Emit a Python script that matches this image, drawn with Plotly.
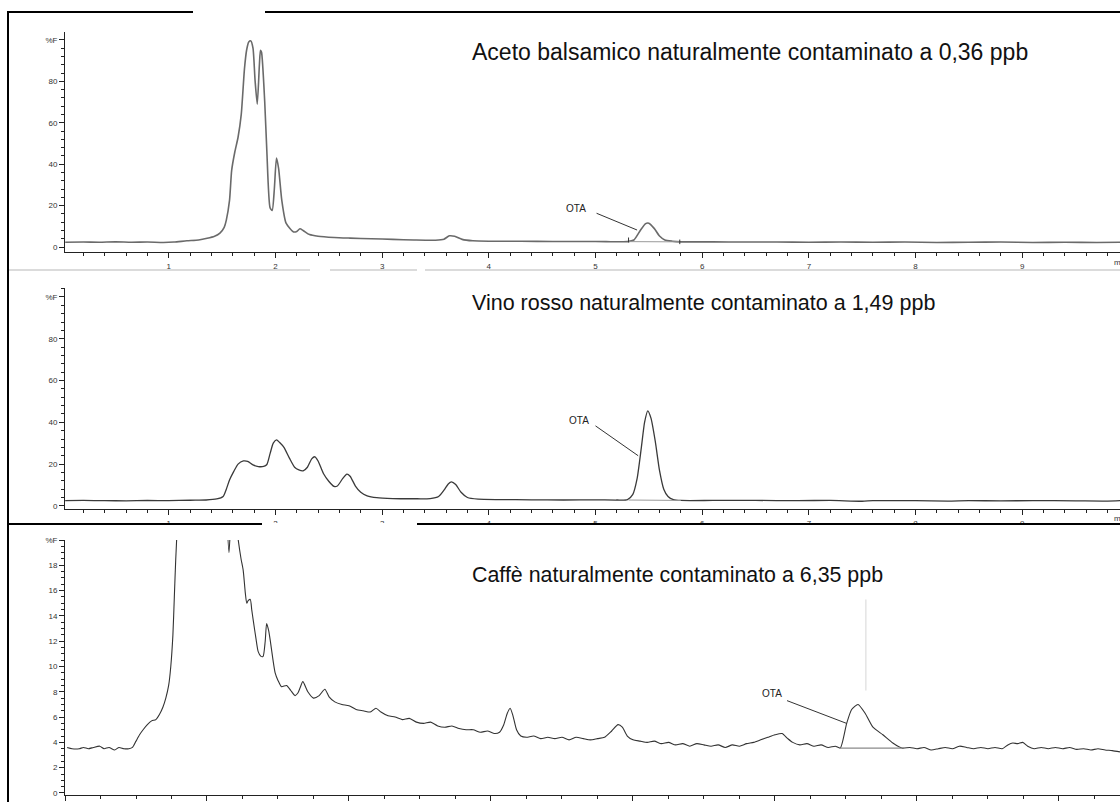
import plotly.graph_objects as go

# ---------------- DATA ----------------
# Panel 1: Aceto balsamico (time [min], %F)
p1_time = [0.03, 0.2, 0.35, 0.5, 0.65, 0.8, 0.95, 1.05, 1.17, 1.28, 1.36, 1.43, 1.48, 1.52, 1.54,
           1.57, 1.59, 1.62, 1.65, 1.68, 1.71, 1.73, 1.75, 1.77, 1.79, 1.81, 1.83, 1.85, 1.86, 1.87,
           1.90, 1.92, 1.95, 1.97, 1.99, 2.01, 2.03, 2.06, 2.10, 2.17, 2.20, 2.23, 2.26, 2.32, 2.40,
           2.55, 2.70, 2.90, 3.10, 3.30, 3.50, 3.58, 3.63, 3.68, 3.75, 3.85, 4.0, 4.3, 4.6, 4.9,
           5.1, 5.3, 5.36, 5.42, 5.47, 5.50, 5.55, 5.60, 5.65, 5.72, 5.8, 6.1, 6.4, 6.7, 7.0,
           7.3, 7.6, 7.9, 8.2, 8.5, 8.8, 9.1, 9.4, 9.7, 9.92]
p1_signal = [2.3, 2.4, 2.3, 2.5, 2.3, 2.4, 2.2, 2.4, 3.0, 3.4, 4.2, 5.2, 6.7, 9.5, 13,
             22.5, 37, 46, 53, 64, 86, 95, 99, 99.5, 96, 80, 69, 88, 95, 94,
             70, 46, 19, 17.7, 28, 43, 38, 22.5, 11.5, 7.3, 7.5, 8.8, 8.0, 6.0, 5.2,
             4.6, 4.3, 4.0, 3.7, 3.4, 3.3, 3.8, 5.4, 5.2, 3.7, 3.0, 2.8, 2.8, 2.7, 2.7,
             2.6, 2.6, 3.4, 8.0, 11.3, 11.5, 9.0, 5.3, 3.4, 2.8, 2.5, 2.5, 2.4, 2.4, 2.3,
             2.4, 2.3, 2.4, 2.2, 2.3, 2.4, 2.2, 2.3, 2.2, 2.3]
p1_ota_base_time = [5.31, 5.79]
p1_ota_base_signal = [2.6, 2.5]
p1_marks_time = [5.31, 5.31, None, 5.79, 5.79]
p1_marks_signal = [2.2, 4.6, None, 1.4, 3.6]
p1_ota_label = (4.82, 18.7)
p1_ota_line_time = [5.01, 5.39]
p1_ota_line_signal = [16.3, 8.2]

# Panel 2: Vino rosso
p2_time = [0.03, 0.2, 0.4, 0.6, 0.8, 1.0, 1.2, 1.35, 1.45, 1.51, 1.54, 1.57, 1.61, 1.65, 1.70,
           1.74, 1.79, 1.84, 1.89, 1.92, 1.95, 1.98, 2.01, 2.04, 2.08, 2.13, 2.18, 2.22, 2.26, 2.30,
           2.34, 2.37, 2.40, 2.45, 2.50, 2.55, 2.58, 2.63, 2.67, 2.70, 2.75, 2.80, 2.86, 2.95, 3.1,
           3.3, 3.45, 3.53, 3.58, 3.62, 3.65, 3.69, 3.74, 3.80, 3.9, 4.1, 4.4, 4.7, 5.0, 5.2,
           5.3, 5.35, 5.39, 5.43, 5.46, 5.49, 5.52, 5.56, 5.60, 5.64, 5.68, 5.73, 5.8, 6.1, 6.5,
           6.9, 7.2, 7.5, 7.6, 8.0, 8.3, 8.5, 8.8, 9.1, 9.5, 9.8, 9.92]
p2_signal = [2.5, 2.6, 2.5, 2.4, 2.6, 2.5, 2.7, 2.8, 3.3, 4.5, 8.0, 12.4, 16.5, 20, 21.5,
             21.3, 19.6, 18.8, 18.9, 19.8, 25, 30, 31.6, 30.3, 28.0, 23.0, 18.5, 17.2, 16.8, 18.5,
             22.5, 23.5, 21.5, 15.5, 11.8, 9.3, 9.5, 13.0, 15.2, 14.2, 9.5, 6.5, 4.8, 3.9, 3.5,
             3.4, 3.5, 4.5, 7.5, 10.5, 11.5, 10.2, 6.5, 4.0, 3.2, 3.0, 2.9, 2.8, 2.9, 2.8,
             3.0, 5.5, 13, 28, 40, 45.5, 42, 31, 17, 8, 4.5, 3.0, 2.6, 2.6, 2.6,
             2.5, 2.6, 2.2, 2.5, 2.5, 2.3, 2.5, 2.4, 2.5, 2.4, 2.3, 2.5]
p2_ota_base_time = [5.31, 5.80]
p2_ota_base_signal = [2.8, 2.6]
p2_ota_label = (4.85, 41.0)
p2_ota_line_time = [5.00, 5.40]
p2_ota_line_signal = [38.3, 24.0]

# Panel 3: Caffè
p3_time = [0.03, 0.1, 0.2, 0.26, 0.33, 0.4, 0.49, 0.55, 0.62, 0.7, 0.76, 0.83, 0.9, 0.95, 1.0,
           1.05, 1.10, 1.16, 1.22, 1.28, 1.33, 1.38, 1.42, 1.46, 1.49, 1.52, 1.54, 1.56, 1.58, 1.60,
           1.70, 1.85, 2.0, 2.15, 2.25, 2.28, 2.31, 2.34, 2.38, 2.42, 2.44, 2.48, 2.51, 2.54, 2.56,
           2.58, 2.61, 2.63, 2.65, 2.69, 2.72, 2.76, 2.79, 2.82, 2.84, 2.87, 2.89, 2.93, 2.96, 3.00,
           3.05, 3.12, 3.18, 3.24, 3.28, 3.31, 3.35, 3.42, 3.5, 3.58, 3.66, 3.72, 3.8, 3.9, 4.0,
           4.1, 4.2, 4.3, 4.38, 4.45, 4.55, 4.65, 4.75, 4.85, 4.95, 5.05, 5.15, 5.25, 5.35, 5.45,
           5.55, 5.65, 5.75, 5.85, 5.95, 6.05, 6.12, 6.18, 6.23, 6.27, 6.31, 6.36, 6.42, 6.5, 6.6,
           6.7, 6.8, 6.9, 7.0, 7.1, 7.2, 7.3, 7.4, 7.5, 7.6, 7.7, 7.79, 7.85, 7.92, 8.0,
           8.1, 8.2, 8.3, 8.4, 8.5, 8.6, 8.7, 8.8, 8.9, 9.0, 9.1, 9.2, 9.3, 9.4, 9.5,
           9.6, 9.7, 9.8, 9.9, 10.0, 10.1, 10.18, 10.25, 10.35, 10.45, 10.55, 10.65, 10.75, 10.85, 10.92,
           11.01, 11.08, 11.17, 11.27, 11.38, 11.52, 11.66, 11.79, 11.9, 12.0, 12.1, 12.2, 12.3, 12.4, 12.5,
           12.6, 12.7, 12.8, 12.9, 13.0, 13.1, 13.2, 13.28, 13.35, 13.42, 13.49, 13.56, 13.65, 13.75, 13.85,
           13.95, 14.05, 14.15, 14.25, 14.35, 14.45, 14.55, 14.65, 14.75, 14.86]
p3_signal = [3.6, 3.5, 3.5, 3.6, 3.5, 3.6, 3.7, 3.5, 3.6, 3.4, 3.6, 3.5, 3.5, 3.6, 4.1,
             4.6, 5.0, 5.4, 5.7, 5.8, 6.2, 6.8, 7.5, 8.5, 10.0, 12.5, 15.5, 18.5, 21, 26,
             45, 60, 55, 40, 28, 22, 19.0, 22, 24, 21, 20, 18.5, 17.6, 15.8, 15.0,
             15.2, 15.3, 14.5, 13.7, 12.2, 11.2, 10.8, 10.8, 12.0, 13.4, 12.8, 12.1, 10.5, 9.5, 8.9,
             8.4, 8.5, 8.1, 7.7, 7.9, 8.3, 8.8, 8.0, 7.5, 7.7, 8.2, 7.6, 7.2, 7.0, 6.9,
             6.6, 6.5, 6.4, 6.7, 6.4, 6.1, 6.0, 5.8, 5.9, 5.6, 5.5, 5.6, 5.3, 5.2, 5.3,
             5.1, 5.0, 5.0, 4.8, 4.9, 4.7, 4.8, 5.4, 6.3, 6.7, 6.1, 5.0, 4.5, 4.4, 4.5,
             4.3, 4.4, 4.3, 4.4, 4.2, 4.4, 4.3, 4.2, 4.3, 4.4, 4.9, 5.4, 5.2, 4.5, 4.2,
             4.1, 4.0, 4.1, 3.9, 4.0, 3.8, 3.9, 3.7, 3.9, 3.8, 3.7, 3.8, 3.6, 3.8, 3.7,
             3.9, 4.0, 4.2, 4.4, 4.6, 4.7, 4.3, 4.0, 3.8, 3.9, 3.7, 3.8, 3.6, 3.7, 3.55,
             5.5, 6.6, 7.0, 6.3, 5.2, 4.6, 3.95, 3.55, 3.6, 3.5, 3.6, 3.4, 3.5, 3.6, 3.5,
             3.7, 3.6, 3.5, 3.6, 3.5, 3.6, 3.5, 3.8, 3.95, 3.9, 4.0, 3.7, 3.5, 3.6, 3.5,
             3.6, 3.5, 3.6, 3.45, 3.5, 3.4, 3.5, 3.4, 3.35, 3.25]
p3_ota_base_time = [10.92, 11.79]
p3_ota_base_signal = [3.55, 3.55]
p3_ota_label = (9.96, 7.9)
p3_ota_line_time = [10.17, 11.01]
p3_ota_line_signal = [7.3, 5.5]
p3_artifact_time = [11.28, 11.28]
p3_artifact_signal = [15.3, 8.1]

titles = ["Aceto balsamico naturalmente contaminato a 0,36 ppb",
          "Vino rosso naturalmente contaminato a 1,49 ppb",
          "Caffè naturalmente contaminato a 6,35 ppb"]
p12_xticks = [1, 2, 3, 4, 5, 6, 7, 8, 9]
p12_yticks = [0, 20, 40, 60, 80, 100]
p12_ylabels = ["0", "20", "40", "60", "80", "%F"]
p3_xticks = [0, 2, 4, 6, 8, 10, 12, 14]
p3_yticks = [0, 2, 4, 6, 8, 10, 12, 14, 16, 18, 20]
p3_ylabels = ["0", "2", "4", "6", "8", "10", "12", "14", "16", "18", "%F"]

# ---------------- FIGURE ----------------
W, H = 1120, 802


def px(x):
    return x / W


def py(y):
    return 1 - y / H


fig = go.Figure()

def line(x, y, xa, ya, color, width):
    fig.add_trace(go.Scatter(x=x, y=y, xaxis=xa, yaxis=ya, mode="lines",
                             line=dict(color=color, width=width, shape="spline", smoothing=0.6),
                             showlegend=False, hoverinfo="skip"))

def seg(x, y, xa, ya, color, width):
    fig.add_trace(go.Scatter(x=x, y=y, xaxis=xa, yaxis=ya, mode="lines",
                             line=dict(color=color, width=width),
                             showlegend=False, hoverinfo="skip"))

# panel 1
line(p1_time, p1_signal, "x", "y", "#6a6a6a", 1.6)
seg(p1_ota_base_time, p1_ota_base_signal, "x", "y", "#9a9a9a", 1)
seg(p1_marks_time, p1_marks_signal, "x", "y", "#333", 1)
seg(p1_ota_line_time, p1_ota_line_signal, "x", "y", "#333", 1)
# panel 2
line(p2_time, p2_signal, "x2", "y2", "#3a3a3a", 1.3)
seg(p2_ota_base_time, p2_ota_base_signal, "x2", "y2", "#9a9a9a", 1)
seg(p2_ota_line_time, p2_ota_line_signal, "x2", "y2", "#333", 1)
# panel 3
seg(p3_artifact_time, p3_artifact_signal, "x3", "y3", "#e4e4e4", 1.5)
line(p3_time, p3_signal, "x3", "y3", "#333333", 1.1)
seg(p3_ota_base_time, p3_ota_base_signal, "x3", "y3", "#8a8a8a", 1.2)
seg(p3_ota_line_time, p3_ota_line_signal, "x3", "y3", "#333", 1)

tickfont = dict(family="Liberation Sans, Arial, sans-serif", size=8, color="#333")

def xax(domain, rng, tickvals, minor_dtick, anchor):
    return dict(domain=domain, range=rng, anchor=anchor, showgrid=False, zeroline=False,
                showline=True, linecolor="#222", linewidth=1, automargin=False,
                ticks="outside", ticklen=5, tickwidth=1, tickcolor="#222",
                tickvals=tickvals, tickfont=tickfont, ticklabelstandoff=1,
                minor=dict(dtick=minor_dtick, tick0=0, ticks="outside", ticklen=3, tickcolor="#222"),
                fixedrange=True)

def yax(domain, rng, tickvals, ticktext, minor_dtick, anchor):
    return dict(domain=domain, range=rng, anchor=anchor, showgrid=False, zeroline=False,
                showline=True, linecolor="#222", linewidth=1, automargin=False,
                ticks="outside", ticklen=5, tickwidth=1, tickcolor="#222",
                tickvals=tickvals, ticktext=ticktext, tickfont=tickfont,
                minor=dict(dtick=minor_dtick, tick0=0, ticks="outside", ticklen=3, tickcolor="#222"),
                fixedrange=True)

fig.update_layout(
    width=W, height=H, margin=dict(l=0, r=0, t=0, b=0, autoexpand=False),
    paper_bgcolor="white", plot_bgcolor="white",
    xaxis=xax([px(65), 1], [0.028, 9.916], p12_xticks, 0.2, "y"),
    yaxis=yax([py(252), py(32)], [-2.4, 103.8], p12_yticks, p12_ylabels, 4, "x"),
    xaxis2=xax([px(65), 1], [0.028, 9.916], p12_xticks, 0.2, "y2"),
    yaxis2=yax([py(509), py(288)], [-1.5, 104.3], p12_yticks, p12_ylabels, 4, "x2"),
    xaxis3=xax([px(65), 1], [0, 14.86], p3_xticks, 0.5, "y3"),
    yaxis3=yax([py(795), py(540)], [-0.16, 20.0], p3_yticks, p3_ylabels, 0.5, "x3"),
)

title_font = dict(family="Liberation Sans, Arial, sans-serif", color="#111")
ann = []
for txt, yy, size in zip(titles, [52, 303, 575], [23, 21.5, 21.4]):
    ann.append(dict(text=txt, xref="paper", yref="paper", x=px(470), y=py(yy),
                    xanchor="left", yanchor="middle", showarrow=False,
                    font=dict(size=size, **title_font)))
ota_font = dict(family="Liberation Sans, Arial, sans-serif", size=10, color="#222")
for (lx, ly), xr, yr in [(p1_ota_label, "x", "y"), (p2_ota_label, "x2", "y2"), (p3_ota_label, "x3", "y3")]:
    ann.append(dict(text="OTA", xref=xr, yref=yr, x=lx, y=ly, showarrow=False,
                    xanchor="center", yanchor="middle", font=ota_font))
for yy in [262, 518]:
    ann.append(dict(text="min", xref="paper", yref="paper", x=px(1112), y=py(yy),
                    xanchor="left", yanchor="middle", showarrow=False, font=tickfont))
fig.update_layout(annotations=ann)

shapes = []
def hline(x0, x1, y, color, width):
    shapes.append(dict(type="line", xref="paper", yref="paper", x0=px(x0), x1=px(x1),
                       y0=py(y), y1=py(y), line=dict(color=color, width=width), layer="above"))

# white strip hiding the lower half of panel-2 tick labels
shapes.append(dict(type="rect", xref="paper", yref="paper", x0=0, x1=1, y0=py(538), y1=py(523),
                   fillcolor="white", line=dict(width=0), layer="above"))
hline(8, 193, 12, "#000", 2)
hline(265, 1120, 12, "#000", 2)
hline(8, 310, 270, "#cfcfcf", 1.5)
hline(330, 417, 270, "#cfcfcf", 1.5)
hline(425, 1120, 270, "#cfcfcf", 1.5)
hline(8, 262, 524, "#000", 2)
hline(417, 1120, 524, "#000", 2)
shapes.append(dict(type="line", xref="paper", yref="paper", x0=px(8), x1=px(8), y0=py(11), y1=0,
                   line=dict(color="#000", width=2), layer="above"))
fig.update_layout(shapes=shapes)

fig.write_html("out.html", config={"displayModeBar": False},
               post_script="document.body.style.margin='0';document.body.style.padding='0';"
                           "document.body.style.overflow='hidden';")
